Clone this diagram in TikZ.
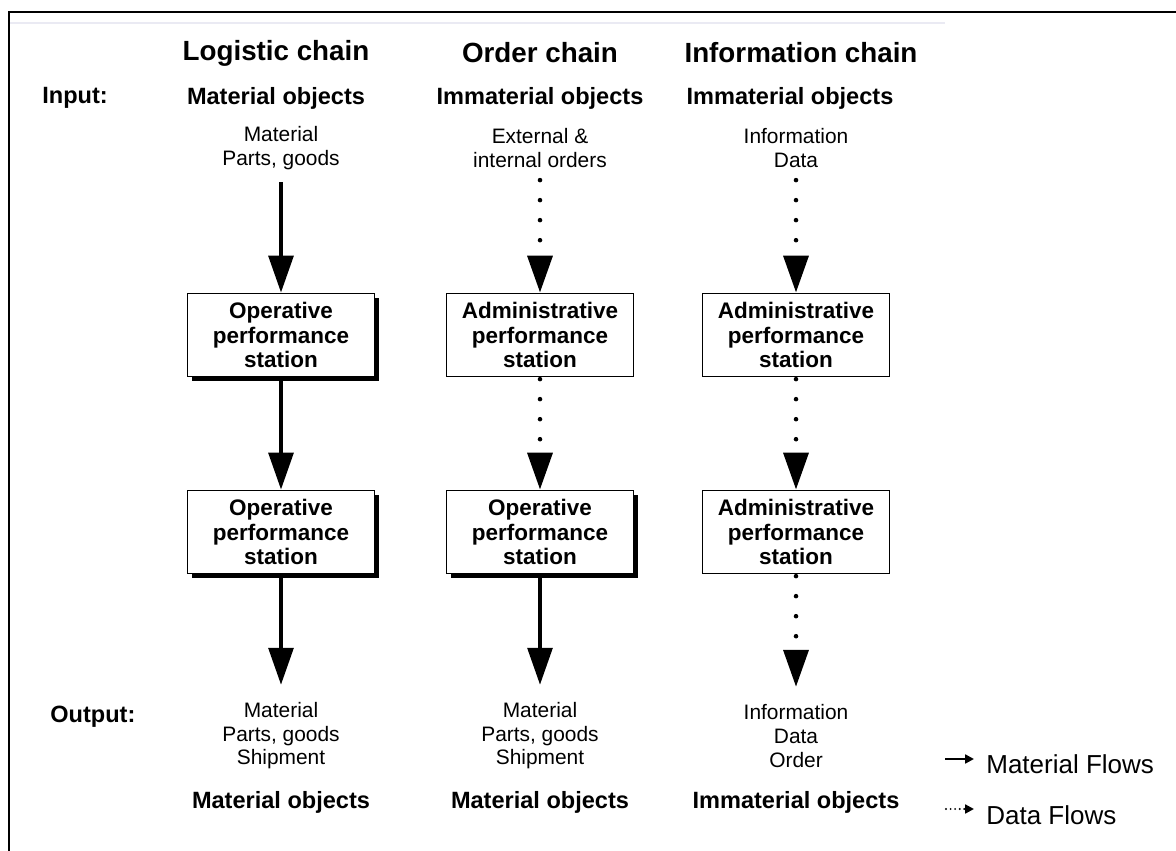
\documentclass[tikz,border=0pt]{standalone}
\usepackage{fontspec}
\setmainfont{Liberation Sans}
\usetikzlibrary{arrows.meta,positioning,shadows}
\definecolor{frameline}{RGB}{234,234,243}

\tikzset{
  chainhead/.style={inner sep=0pt, font=\fontsize{15.8}{18}\selectfont\bfseries},
  objects/.style={inner sep=0pt, font=\fontsize{13.4}{16}\selectfont\bfseries},
  flowtext/.style={align=center, inner sep=0pt, font=\fontsize{11.9}{13.4}\selectfont},
  station/.style={draw, line width=1pt, fill=white, minimum width=3.74cm, minimum height=1.66cm, align=center, inner sep=0pt, font=\fontsize{12.8}{13.9}\selectfont\bfseries},
  operative/.style={station, general shadow={fill=black, shadow xshift=2.4pt, shadow yshift=-2.4pt}},
  matflow/.style={-{Triangle[width=14pt,length=21pt]}, line width=2.3pt},
  dataflow/.style={-{Triangle[width=14pt,length=21pt]}, line width=2.6pt, line cap=round, dash pattern=on 0pt off 11.4pt},
  legendtext/.style={anchor=west, inner sep=0pt, font=\fontsize{14.8}{16}\selectfont}
}

\begin{document}
\begin{tikzpicture}[x=0.02cm, y=-0.02cm]
\useasboundingbox (0,0) rectangle (1176,851);
% frame
\draw[line width=1pt] (9,851) -- (9,12) -- (1176,12);
\draw[line width=1.2pt, frameline] (10,23) -- (945,23);

% column heads
\node[chainhead] (logH) at (276,53) {Logistic chain};
\node[chainhead] (ordH) at (540,53) {Order chain};
\node[chainhead] (infH) at (801,53) {Information chain};

% input
\node[objects, anchor=west] (inLbl) at (42,98) {Input:};
\node[objects] (logIn) at (276,98) {Material objects};
\node[objects] (ordIn) at (540,98) {Immaterial objects};
\node[objects] (infIn) at (790,98) {Immaterial objects};
\node[flowtext] (logA) at (281,148) {Material\\Parts, goods};
\node[flowtext] (ordA) at (540,148) {External \&\\internal orders};
\node[flowtext] (infA) at (796,148) {Information\\Data};

% stations
\node[operative] (log1) at (281,335) {Operative\\performance\\station};
\node[operative] (log2) at (281,532) {Operative\\performance\\station};
\node[station] (ord1) at (540,335) {Administrative\\performance\\station};
\node[operative] (ord2) at (540,532) {Operative\\performance\\station};
\node[station] (inf1) at (796,335) {Administrative\\performance\\station};
\node[station] (inf2) at (796,532) {Administrative\\performance\\station};

% output
\node[objects, anchor=west] (outLbl) at (50,717) {Output:};
\node[flowtext] (logB) at (281,736) {Material\\Parts, goods\\Shipment};
\node[flowtext] (ordB) at (540,736) {Material\\Parts, goods\\Shipment};
\node[flowtext] (infB) at (796,736) {Information\\Data\\Order};
\node[objects] (logOut) at (281,802) {Material objects};
\node[objects] (ordOut) at (540,802) {Material objects};
\node[objects] (infOut) at (796,802) {Immaterial objects};

% flows
\draw[matflow, shorten <=7pt] (logA) -- (log1);
\draw[matflow] (log1) -- (log2);
\draw[matflow, shorten >=10pt] (log2) -- (logB);
\draw[dataflow, shorten <=7pt] (ordA) -- (ord1);
\draw[dataflow, shorten <=1pt] (ord1) -- (ord2);
\draw[matflow, shorten >=10pt] (ord2) -- (ordB);
\draw[dataflow, shorten <=7pt] (infA) -- (inf1);
\draw[dataflow, shorten <=1pt] (inf1) -- (inf2);
\draw[dataflow, shorten <=1pt, shorten >=10pt] (inf2) -- (infB);

% legend
\node[legendtext] (matLeg) at (986,764) {Material Flows};
\node[legendtext] (dataLeg) at (986,815) {Data Flows};
\coordinate (matLegA) at (945,759);
\coordinate (matLegB) at (974,759);
\coordinate (dataLegA) at (946,809);
\coordinate (dataLegB) at (974,809);
\draw[-{Triangle[width=5pt,length=5pt]}, line width=1.3pt] (matLegA) -- (matLegB);
\draw[-{Triangle[width=5pt,length=5pt]}, line width=1.2pt, line cap=round, dash pattern=on 0pt off 2.6pt] (dataLegA) -- (dataLegB);
\end{tikzpicture}
\end{document}
